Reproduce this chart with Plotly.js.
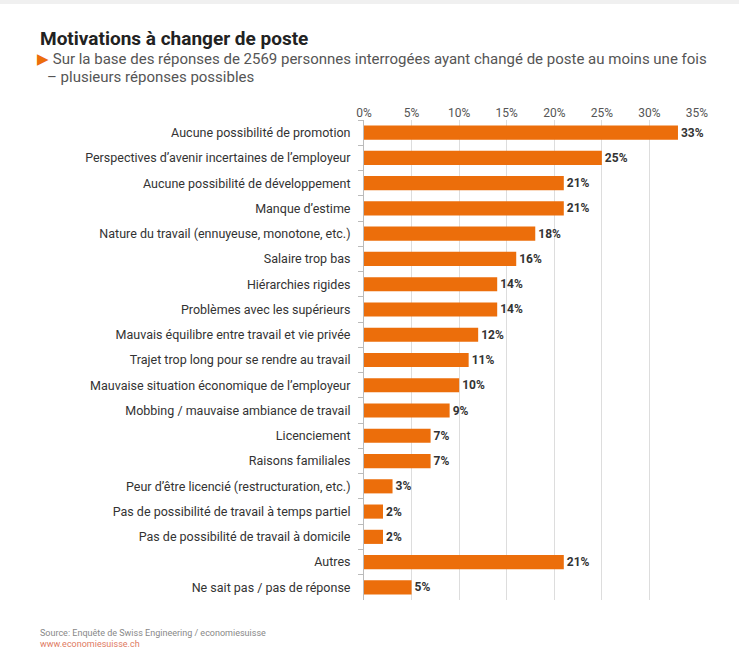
<!DOCTYPE html>
<html><head><meta charset="utf-8">
<script src="https://cdn.plot.ly/plotly-3.0.1.min.js"></script>
<style>html,body{margin:0;padding:0;background:#fff;}#chart{width:739px;height:666px;}</style>
</head><body><div id="chart"></div>
<script>
const categories = [
  "Aucune possibilité de promotion",
  "Perspectives d’avenir incertaines de l’employeur",
  "Aucune possibilité de développement",
  "Manque d’estime",
  "Nature du travail (ennuyeuse, monotone, etc.)",
  "Salaire trop bas",
  "Hiérarchies rigides",
  "Problèmes avec les supérieurs",
  "Mauvais équilibre entre travail et vie privée",
  "Trajet trop long pour se rendre au travail",
  "Mauvaise situation économique de l’employeur",
  "Mobbing / mauvaise ambiance de travail",
  "Licenciement",
  "Raisons familiales",
  "Peur d’être licencié (restructuration, etc.)",
  "Pas de possibilité de travail à temps partiel",
  "Pas de possibilité de travail à domicile",
  "Autres",
  "Ne sait pas / pas de réponse"
];
const values = [33, 25, 21, 21, 18, 16, 14, 14, 12, 11, 10, 9, 7, 7, 3, 2, 2, 21, 5];
const tickVals = [0, 5, 10, 15, 20, 25, 30, 35];
const tickText = ["0%", "5%", "10%", "15%", "20%", "25%", "30%", "35%"];

const FONT = "Roboto, 'Noto Sans', sans-serif";
const ORANGE = "#EC6E0B";

const trace = {
  type: "bar",
  orientation: "h",
  x: values,
  y: categories,
  marker: {color: ORANGE},
  text: values.map(v => v + "%"),
  textposition: "outside",
  cliponaxis: false,
  textfont: {family: FONT, size: 12, color: "#333", weight: 700},
  hoverinfo: "none"
};

const layout = {
  width: 739, height: 666,
  margin: {l: 364, r: 42, t: 120, b: 66},
  paper_bgcolor: "#fff", plot_bgcolor: "#fff",
  bargap: 0.44,
  showlegend: false,
  font: {family: FONT, color: "#333"},
  xaxis: {
    range: [0, 35], side: "top",
    tickvals: tickVals, ticktext: tickText,
    showgrid: true, gridcolor: "#dddddd", gridwidth: 1,
    zeroline: false, showline: false, ticks: "",
    tickfont: {family: FONT, size: 12, color: "#555"},
    fixedrange: true
  },
  yaxis: {
    type: "category", autorange: "reversed",
    showline: true, linecolor: "#bbbbbb", linewidth: 1,
    ticks: "outside", tickson: "boundaries", ticklen: 5, tickcolor: "#bbbbbb",
    ticklabelstandoff: 10,
    tickfont: {family: FONT, size: 12.5, color: "#333"},
    showgrid: false, zeroline: false, fixedrange: true
  },
  shapes: [
    {type: "rect", xref: "paper", yref: "paper", x0: -1.2, x1: 1.2, y0: 1.2417, y1: 1.26,
     fillcolor: "#f0f0f0", line: {width: 0}, layer: "below"}
  ],
  annotations: [
    {xref: "paper", yref: "paper", x: (38 - 364) / 333, y: (600 - 25) / 480, xanchor: "left", yanchor: "top",
     text: "<b>Motivations à changer de poste</b>", showarrow: false,
     font: {family: FONT, size: 19, color: "#222"}},
    {xref: "paper", yref: "paper", x: (36 - 364) / 333, y: (600 - 59) / 480, xanchor: "left", yanchor: "middle", align: "left", borderpad: 0,
     text: "<span style='color:" + ORANGE + "'>▶</span> Sur la base des réponses de 2569 personnes interrogées ayant changé de poste au moins une fois",
     showarrow: false, font: {family: FONT, size: 15, color: "#555"}},
    {xref: "paper", yref: "paper", x: (46 - 364) / 333, y: (600 - 77) / 480, xanchor: "left", yanchor: "middle", align: "left", borderpad: 0,
     text: "– plusieurs réponses possibles",
     showarrow: false, font: {family: FONT, size: 15, color: "#555"}},
    {xref: "paper", yref: "paper", x: (38 - 364) / 333, y: (600 - 626) / 480, xanchor: "left", yanchor: "top", align: "left",
     text: "Source: Enquête de Swiss Engineering / economiesuisse", showarrow: false,
     font: {family: FONT, size: 9, color: "#888"}},
    {xref: "paper", yref: "paper", x: (38 - 364) / 333, y: (600 - 637) / 480, xanchor: "left", yanchor: "top", align: "left",
     text: "www.economiesuisse.ch", showarrow: false,
     font: {family: FONT, size: 9, color: "#E07A5F"}}
  ]
};

Plotly.newPlot("chart", [trace], layout, {displayModeBar: false, staticPlot: true});
</script>
</body></html>
